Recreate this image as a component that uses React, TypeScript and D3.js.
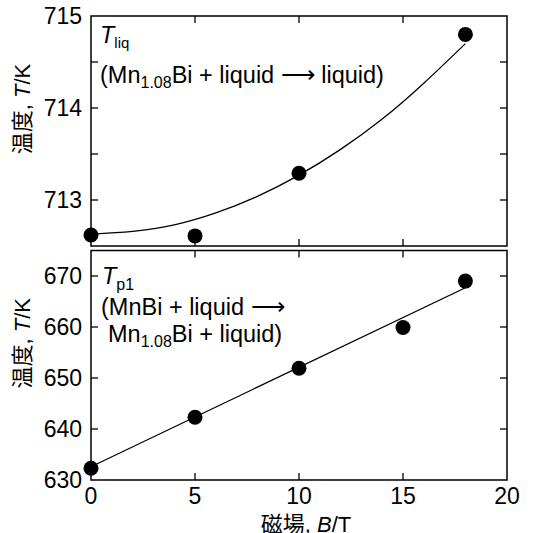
import * as d3 from 'd3';

// magnetic field, T
const fieldLiq = [0, 5, 10, 18];
const tempLiq = [712.62, 712.61, 713.29, 714.8];
// fitted curve
const fitLiqX = [0, 2, 4, 6, 8, 10, 12, 14, 16, 18];
const fitLiqY = [712.63, 712.66, 712.73, 712.86, 713.04, 713.27, 713.55, 713.88, 714.27, 714.7];

const fieldP1 = [0, 5, 10, 15, 18];
const tempP1 = [632.3, 642.3, 651.9, 659.9, 669.0];
const fitP1X = [0, 18];
const fitP1Y = [632.6, 667.7];

const xTicks = [0, 5, 10, 15, 20];
const liqTicks = [713, 714, 715];
const liqMinor = [712.5, 713.5, 714.5];
const p1Ticks = [630, 640, 650, 660, 670];

const W = 542;
const H = 533;
const left = 91;
const right = 507;
const font = '"Liberation Sans", Arial, Helvetica, sans-serif';
const cjk = '"Liberation Sans", "Noto Sans CJK JP", sans-serif';

const x = d3.scaleLinear().domain([0, 20]).range([left, right]);

type PanelProps = {
	top: number;
	bottom: number;
	domain: [number, number];
	ticks: number[];
	minor: number[];
	px: number[];
	py: number[];
	fx: number[];
	fy: number[];
	curved: boolean;
};

function Panel({ top, bottom, domain, ticks, minor, px, py, fx, fy, curved }: PanelProps) {
	const y = d3.scaleLinear().domain(domain).range([bottom, top]);
	const line = d3
		.line<number>()
		.x((d, i) => x(fx[i]))
		.y((d) => y(d))
		.curve(curved ? d3.curveNatural : d3.curveLinear);
	const tl = 7;
	return (
		<g>
			<rect x={left} y={top} width={right - left} height={bottom - top} fill='none' stroke='#000' strokeWidth={1.5} />
			{xTicks.slice(1, -1).map((t) => (
				<g key={'x' + t} stroke='#000' strokeWidth={1.3}>
					<line x1={x(t)} x2={x(t)} y1={top} y2={top + tl} />
					<line x1={x(t)} x2={x(t)} y1={bottom} y2={bottom - tl} />
				</g>
			))}
			{[...ticks, ...minor]
				.filter((t) => y(t) > top + 1 && y(t) < bottom - 1)
				.map((t) => (
					<g key={'y' + t} stroke='#000' strokeWidth={1.3}>
						<line x1={left} x2={left + tl} y1={y(t)} y2={y(t)} />
						<line x1={right} x2={right - tl} y1={y(t)} y2={y(t)} />
					</g>
				))}
			{ticks.map((t) => (
				<text key={'l' + t} x={82} y={y(t)} dy='0.36em' textAnchor='end' fontSize={23} fontFamily={font}>
					{t}
				</text>
			))}
			<path d={line(fy) || ''} fill='none' stroke='#000' strokeWidth={1.3} />
			{px.map((v, i) => (
				<circle key={'p' + i} cx={x(v)} cy={y(py[i])} r={7.5} fill='#000' />
			))}
			<text
				transform={`translate(30,${(top + bottom) / 2 - 22}) rotate(-90)`}
				textAnchor='middle'
				fontSize={22}
				fontFamily={cjk}>
				温度, <tspan fontStyle='italic'>T</tspan>/K
			</text>
		</g>
	);
}

export default function App() {
	return (
		<svg width={W} height={H} style={{ position: 'absolute', left: 0, top: 0, background: '#fff' }}>
			<Panel
				top={16}
				bottom={246}
				domain={[712.5, 715]}
				ticks={liqTicks}
				minor={liqMinor}
				px={fieldLiq}
				py={tempLiq}
				fx={fitLiqX}
				fy={fitLiqY}
				curved={true}
			/>
			<Panel
				top={250.5}
				bottom={480}
				domain={[630, 675]}
				ticks={p1Ticks}
				minor={[]}
				px={fieldP1}
				py={tempP1}
				fx={fitP1X}
				fy={fitP1Y}
				curved={false}
			/>
			<g fontFamily={font} fontSize={23.5}>
				<text x={100} y={43}>
					<tspan fontStyle='italic'>T</tspan>
					<tspan fontSize={15} dy={5}>liq</tspan>
				</text>
				<text x={100} y={83}>
					(Mn<tspan fontSize={16} dy={5}>1.08</tspan>
					<tspan dy={-5}>Bi + liquid </tspan>
					<tspan>⟶</tspan>
					<tspan> liquid)</tspan>
				</text>
				<text x={102} y={284}>
					<tspan fontStyle='italic'>T</tspan>
					<tspan fontSize={16} dy={6}>p1</tspan>
				</text>
				<text x={101} y={315}>
					(MnBi + liquid <tspan>⟶</tspan>
				</text>
				<text x={108} y={342}>
					Mn<tspan fontSize={16} dy={5}>1.08</tspan>
					<tspan dy={-5}>Bi + liquid)</tspan>
				</text>
				{xTicks.map((t) => (
					<text key={t} x={x(t)} y={504} textAnchor='middle' fontSize={23}>
						{t}
					</text>
				))}
				<text x={306} y={532} textAnchor='middle' fontSize={22} fontFamily={cjk}>
					磁場, <tspan fontStyle='italic'>B</tspan>/T
				</text>
			</g>
		</svg>
	);
}
